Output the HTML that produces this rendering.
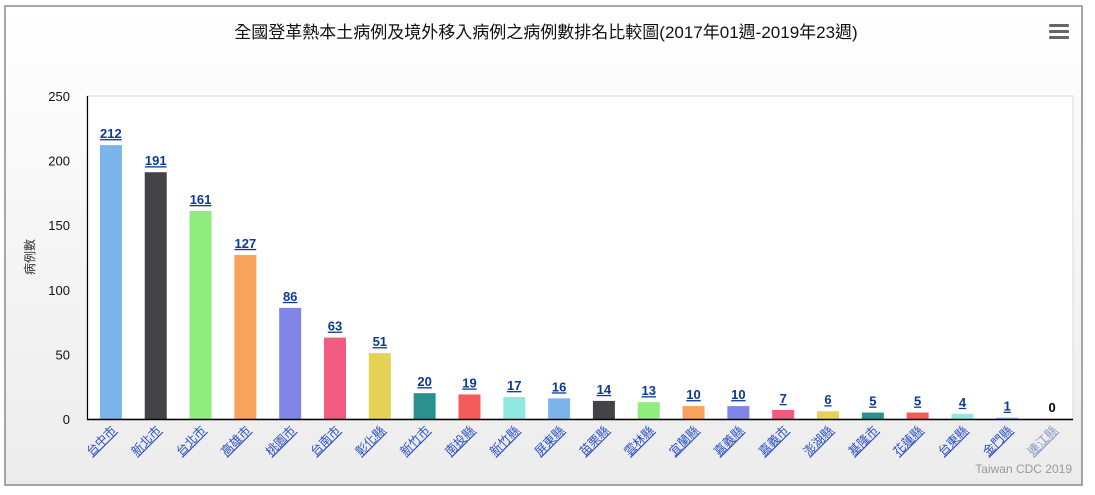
<!DOCTYPE html>
<html><head><meta charset="utf-8"><style>
body{margin:0;width:1095px;height:490px;overflow:hidden;background:#fff;font-family:"Liberation Sans","Noto Sans CJK TC",sans-serif;}
</style></head><body>
<svg id="chart" width="1095" height="490" xmlns="http://www.w3.org/2000/svg" style="font-family:'Liberation Sans','Noto Sans CJK TC',sans-serif">
<defs><linearGradient id="bg" x1="0" y1="0" x2="0" y2="1"><stop offset="0" stop-color="#ffffff"/><stop offset="1" stop-color="#ececec"/></linearGradient></defs>
<rect x="5" y="6" width="1077" height="479" fill="url(#bg)" stroke="#8a8a8a" stroke-width="1.5"/>
<text x="546" y="38" text-anchor="middle" font-size="17" fill="#111">全國登革熱本土病例及境外移入病例之病例數排名比較圖(2017年01週-2019年23週)</text>
<g fill="#666">
<rect x="1049" y="24" width="20" height="3" rx="1"/><rect x="1049" y="30" width="20" height="3" rx="1"/><rect x="1049" y="36" width="20" height="3" rx="1"/></g>
<rect x="87" y="96" width="986" height="323" fill="#fff" stroke="#d8d8d8" stroke-width="1"/>
<text transform="translate(34,257) rotate(-90)" text-anchor="middle" font-size="12" fill="#333">病例數</text>
<g id="ticks"></g><g id="bars"></g><g id="labels"></g><g id="xlabels"></g>
<line x1="87.5" y1="96" x2="87.5" y2="420" stroke="#000" stroke-width="1.2"/>
<line x1="87" y1="419.5" x2="1073" y2="419.5" stroke="#000" stroke-width="1.5"/>
<text x="1072" y="473" text-anchor="end" font-size="12" fill="#999">Taiwan CDC 2019</text>
</svg>
<script>
const categories=["台中市","新北市","台北市","高雄市","桃園市","台南市","彰化縣","新竹市","南投縣","新竹縣","屏東縣","苗栗縣","雲林縣","宜蘭縣","嘉義縣","嘉義市","澎湖縣","基隆市","花蓮縣","台東縣","金門縣","連江縣"];
const values=[212,191,161,127,86,63,51,20,19,17,16,14,13,10,10,7,6,5,5,4,1,0];
const yTicks=[0,50,100,150,200,250];
const colors=["#7cb5ec","#434348","#90ed7d","#f7a35c","#8085e9","#f15c80","#e4d354","#2b908f","#f45b5b","#91e8e1"];
const NS="http://www.w3.org/2000/svg";
const x0=87,x1=1073,yTop=96,yBot=419,yMax=250;
const band=(x1-x0)/categories.length;
const xC=i=>x0+band*(i+0.5)+1.5;
const y=v=>yBot-(v/yMax)*(yBot-yTop);
function mk(t,a,p){const e=document.createElementNS(NS,t);for(const k in a)e.setAttribute(k,a[k]);p.appendChild(e);return e;}
const tg=document.getElementById('ticks');
yTicks.forEach(v=>{const t=mk('text',{x:70,y:y(v)+5,'text-anchor':'end','font-size':13,fill:'#111'},tg);


t.textContent=v;});
const bg=document.getElementById('bars'),lg=document.getElementById('labels'),xg=document.getElementById('xlabels');
categories.forEach((c,i)=>{const v=values[i];const cx=xC(i);
if(v>0){const r=mk('rect',{x:cx-11,y:y(v),width:22,height:yBot-y(v),fill:colors[i%colors.length]},bg);

}
const l=mk('text',{x:cx,y:y(v)-7,'text-anchor':'middle','font-size':13,'font-weight':'bold',fill:v>0?'#0b3a94':'#000','text-decoration':v>0?'underline':'none'},lg);


l.textContent=v;
const xl=mk('text',{transform:`translate(${cx+6},${431}) rotate(-45)`,'text-anchor':'end','font-size':12,fill:v>0?'#2a4fc4':'#8a9ac8','text-decoration':'underline'},xg);


xl.textContent=c;});
</script>
</body></html>
